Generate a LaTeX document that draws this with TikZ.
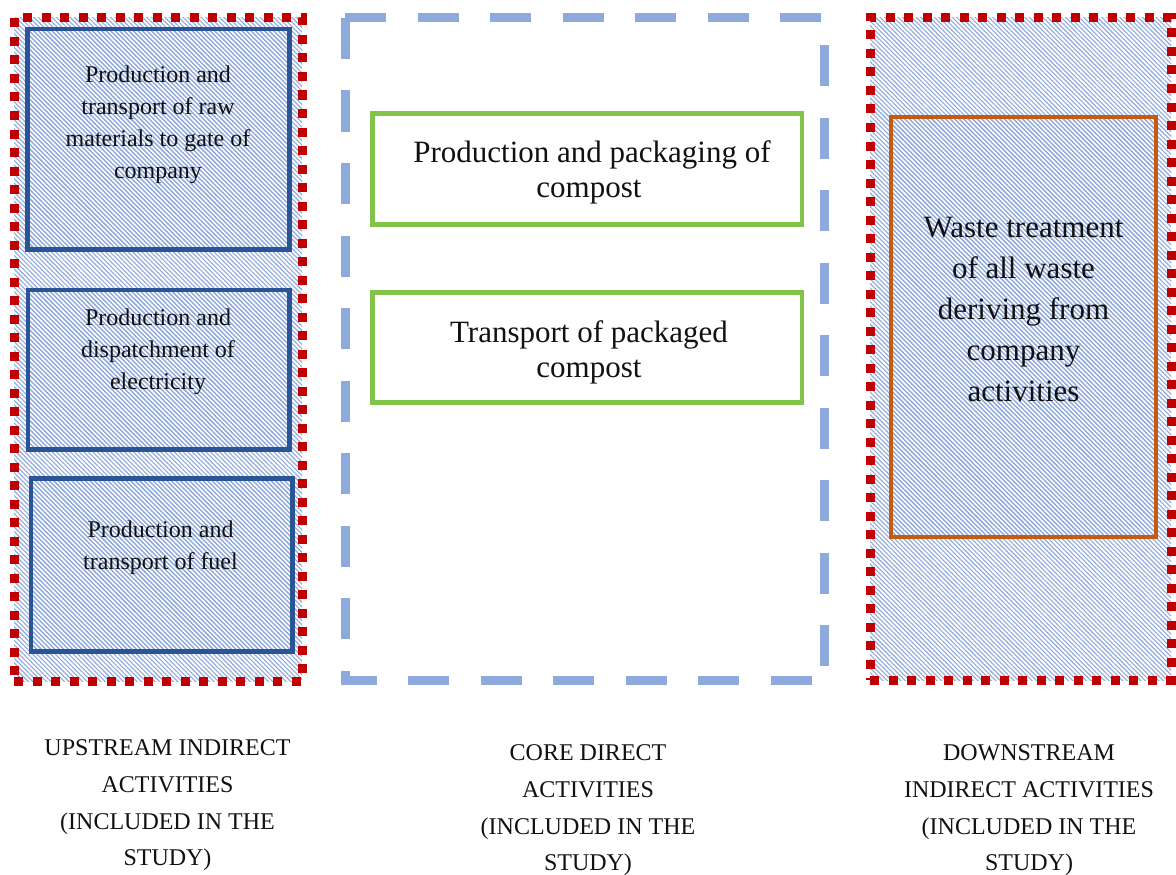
\documentclass[tikz,border=0pt]{standalone}
\usepackage{fontspec}
\setmainfont{Liberation Serif}
\usetikzlibrary{patterns.meta}
\definecolor{reddot}{HTML}{C00000}
\definecolor{coredash}{HTML}{8EA9DB}
\definecolor{hatchblue}{HTML}{8EA9DB}
\definecolor{boxblue}{HTML}{2A5494}
\definecolor{boxgreen}{HTML}{82C34A}
\definecolor{boxorange}{HTML}{C55A11}
\definecolor{ink}{HTML}{111111}
\tikzset{
  hatched/.style={pattern={Lines[angle=-45,distance=3.2pt,line width=1.1pt]}, pattern color=hatchblue},
  grp/.style={rectangle, inner sep=0pt, outer sep=0pt},
  groupred/.style={grp, draw=reddot, line width=9pt, dash pattern=on 9pt off 9.5pt},
  coreline/.style={draw=coredash, line width=9pt, dash pattern=on 41pt off 31.5pt},
  bluebox/.style={grp, draw=boxblue, line width=4.5pt},
  greenbox/.style={grp, draw=boxgreen, line width=4.5pt, fill=white},
  orangebox/.style={grp, draw=boxorange, line width=4.5pt},
  smalltext/.style={align=center, inner sep=0pt, text=ink, font=\fontsize{24}{32}\selectfont},
  bigtext/.style={align=center, inner sep=0pt, text=ink, font=\fontsize{31}{35}\selectfont},
  wastetext/.style={align=center, inner sep=0pt, text=ink, font=\fontsize{31}{41}\selectfont},
  captiontext/.style={align=center, inner sep=0pt, text=ink, font=\fontsize{24}{36.7}\selectfont},
}
\begin{document}
\begin{tikzpicture}[x=1pt,y=-1pt]
\useasboundingbox[fill=white] (0,0) rectangle (1176,875);

% upstream group
\node[grp, hatched, minimum width=288pt, minimum height=663pt] (upfill) at (158,349.5) {};
\node[bluebox, hatched, minimum width=262pt, minimum height=220.5pt] (b1) at (158.5,139.25) {};
\node[bluebox, hatched, minimum width=261.5pt, minimum height=159.5pt] (b2) at (158.75,369.75) {};
\node[bluebox, hatched, minimum width=261.5pt, minimum height=173pt] (b3) at (161.75,565) {};
\node[groupred, minimum width=288pt, minimum height=663pt] (up) at (158,349.5) {};

\node[smalltext] (t1) at (158,124.7) {Production and\\transport of raw\\materials to gate of\\company};
\node[smalltext] (t2) at (158,352) {Production and\\dispatchment of\\electricity};
\node[smalltext] (t3) at (160.5,548) {Production and\\transport of fuel};

% core group
\node[grp, minimum width=479pt, minimum height=662pt] (core) at (584.5,349) {};
\draw[coreline] (core.north west) -- (core.north east);
\draw[coreline] (core.north west) -- (core.south west) -- (core.south east);
\draw[coreline, dash phase=45.5pt] (core.north east) -- (core.south east);
\node[greenbox, minimum width=429.5pt, minimum height=111pt] (g1) at (587.25,169) {};
\node[greenbox, minimum width=429.5pt, minimum height=110pt] (g2) at (587.25,347.5) {};
\node[bigtext] (gt1) at (589,172.4) {\hspace*{6pt}Production and packaging of\\compost};
\node[bigtext] (gt2) at (589,352) {Transport of packaged\\compost};

% downstream group
\node[grp, hatched, minimum width=301pt, minimum height=662pt] (downfill) at (1020.5,349) {};
\node[orangebox, hatched, minimum width=265pt, minimum height=420pt] (o1) at (1023.5,327) {};
\node[groupred, minimum width=301pt, minimum height=662pt] (down) at (1020.5,349) {};
\node[wastetext] (ot) at (1023.5,309) {Waste treatment\\of all waste\\deriving from\\company\\activities};

% captions
\node[captiontext] (c1) at (167.5,805.5) {UPSTREAM INDIRECT\\ACTIVITIES\\(INCLUDED IN THE\\STUDY)};
\node[captiontext] (c2) at (588,810.5) {CORE DIRECT\\ACTIVITIES\\(INCLUDED IN THE\\STUDY)};
\node[captiontext] (c3) at (1029,810.5) {DOWNSTREAM\\INDIRECT ACTIVITIES\\(INCLUDED IN THE\\STUDY)};
\end{tikzpicture}
\end{document}
